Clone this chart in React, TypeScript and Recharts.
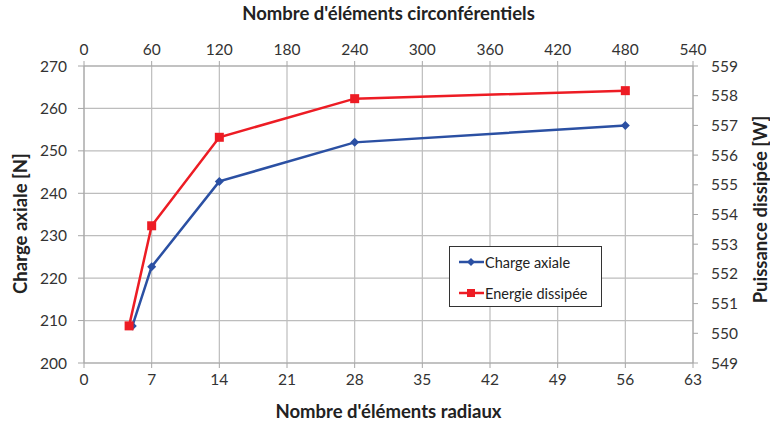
import React from 'react';
import { LineChart, Line, XAxis, YAxis, CartesianGrid } from 'recharts';

// Charge axiale (axe du bas : éléments radiaux, axe de gauche)
const radiaux = [5, 7, 14, 28, 56];
const chargeAxiale = [208.7, 222.7, 242.8, 252.0, 256.0];

// Energie dissipée (axe du haut : éléments circonférentiels, axe de droite)
const circonf = [40, 60, 120, 240, 480];
const energie = [550.25, 553.62, 556.6, 557.9, 558.17];

const ticksRadiaux = [0, 7, 14, 21, 28, 35, 42, 49, 56, 63];
const ticksCirconf = [0, 60, 120, 180, 240, 300, 360, 420, 480, 540];
const ticksCharge = [200, 210, 220, 230, 240, 250, 260, 270];
const ticksPuissance = [549, 550, 551, 552, 553, 554, 555, 556, 557, 558, 559];

const BLUE = '#2b50a3';
const RED = '#ed1c24';
const FONT = 'Lato, "Open Sans", sans-serif';

const chargeData = radiaux.map((r, i) => ({ r, charge: chargeAxiale[i] }));
const energieData = circonf.map((c, i) => ({ c, energie: energie[i] }));

const Diamond = (props: any) => {
  const { cx, cy } = props;
  if (cx == null || cy == null) return null;
  return <polygon points={`${cx},${cy - 4.5} ${cx + 4.5},${cy} ${cx},${cy + 4.5} ${cx - 4.5},${cy}`} fill={BLUE} />;
};

const Square = (props: any) => {
  const { cx, cy } = props;
  if (cx == null || cy == null) return null;
  return <rect x={cx - 4.5} y={cy - 4.5} width={9} height={9} fill={RED} />;
};

// légende encadrée, posée sur la zone de tracé
const LegendBox = () => (
  <div style={{ position: 'absolute', left: 449, top: 246, width: 151, height: 59, border: '1px solid #333', background: '#fff', fontFamily: FONT, fontSize: 14.5, color: '#222' }}>
    {[
      { name: 'Charge axiale', color: BLUE, square: false },
      { name: 'Energie dissipée', color: RED, square: true },
    ].map((it, i) => (
      <div key={it.name} style={{ position: 'absolute', left: 9, top: i === 0 ? 5 : 36, display: 'flex', alignItems: 'center', height: 20 }}>
        <svg width={26} height={12}>
          <line x1={0} y1={6} x2={25} y2={6} stroke={it.color} strokeWidth={2.5} />
          {it.square ? (
            <rect x={8} y={2} width={8} height={8} fill={it.color} />
          ) : (
            <polygon points="12,2 16,6 12,10 8,6" fill={it.color} />
          )}
        </svg>
        <span>{it.name}</span>
      </div>
    ))}
  </div>
);

const tick = { fill: '#333', fontSize: 15.5, fontFamily: FONT };
const titleStyle: React.CSSProperties = { fontFamily: FONT, fontWeight: 700, fontSize: 18.5, fill: '#222' };

export default function App() {
  return (
    <div style={{ position: 'absolute', left: 0, top: 0, width: 770, height: 425, background: '#fff' }}>
      <LineChart width={770} height={425} margin={{ top: 0, right: 0, bottom: 0, left: 0 }}>
        <CartesianGrid xAxisId="bottom" yAxisId="left" stroke="#bdbdbd" strokeWidth={1.2} />
        <XAxis
          xAxisId="bottom"
          dataKey="r"
          type="number"
          orientation="bottom"
          domain={[0, 63]}
          ticks={ticksRadiaux}
          allowDataOverflow
          height={62}
          stroke="#a6a6a6"
          tickSize={5}
          tickMargin={6}
          tick={tick}
          label={{ value: "Nombre d'éléments radiaux", position: 'insideBottom', offset: 7, style: titleStyle }}
        />
        <XAxis
          xAxisId="top"
          dataKey="c"
          type="number"
          orientation="top"
          domain={[0, 540]}
          ticks={ticksCirconf}
          allowDataOverflow
          height={66}
          stroke="#a6a6a6"
          tickSize={5}
          tickMargin={6}
          tick={tick}
          label={{ value: "Nombre d'éléments circonférentiels", position: 'insideTop', offset: 7, style: titleStyle }}
        />
        <YAxis
          yAxisId="left"
          orientation="left"
          domain={[200, 270]}
          ticks={ticksCharge}
          allowDataOverflow
          width={84}
          stroke="#a6a6a6"
          tickSize={6}
          tickMargin={11}
          tick={tick}
          label={{ value: 'Charge axiale [N]', angle: -90, position: 'insideLeft', offset: 20, dy: 9, style: { ...titleStyle, textAnchor: 'middle' } }}
        />
        <YAxis
          yAxisId="right"
          orientation="right"
          domain={[549, 559]}
          ticks={ticksPuissance}
          allowDataOverflow
          width={77}
          stroke="#a6a6a6"
          tickSize={5}
          tickMargin={13}
          tick={tick}
          label={{ value: 'Puissance dissipée [W]', angle: -90, position: 'insideRight', offset: 10, dy: -5, style: { ...titleStyle, textAnchor: 'middle' } }}
        />
        <Line
          name="Charge axiale"
          data={chargeData}
          xAxisId="bottom"
          yAxisId="left"
          dataKey="charge"
          stroke={BLUE}
          strokeWidth={2.5}
          dot={<Diamond />}
          activeDot={false}
          isAnimationActive={false}
        />
        <Line
          name="Energie dissipée"
          data={energieData}
          xAxisId="top"
          yAxisId="right"
          dataKey="energie"
          stroke={RED}
          strokeWidth={2.5}
          dot={<Square />}
          activeDot={false}
          isAnimationActive={false}
        />
      </LineChart>
      <LegendBox />
    </div>
  );
}
